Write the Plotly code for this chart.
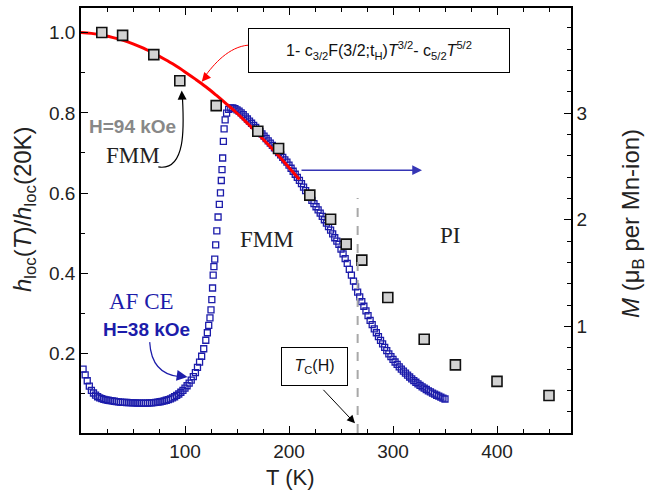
import plotly.graph_objects as go

# ---------------- data ----------------
# grey squares: h_loc(T)/h_loc(20K), H=94 kOe (left axis)
T_h = [20, 40, 70, 95, 130, 170, 190, 220, 240, 255, 270, 295, 330, 360, 400, 450]
h_ratio = [1.000, 0.993, 0.945, 0.880, 0.818, 0.754, 0.711, 0.595, 0.535, 0.473,
           0.433, 0.340, 0.236, 0.172, 0.131, 0.096]

# red spin-wave fit curve (left axis)
T_fit = [0, 10, 20, 30, 40, 50, 60, 70, 80, 90, 100, 110, 120, 130, 140, 150,
         160, 170, 180, 190, 200, 210]
h_fit = [1.000, 0.998, 0.994, 0.988, 0.981, 0.972, 0.961, 0.948, 0.934, 0.919,
         0.902, 0.884, 0.865, 0.844, 0.822, 0.799, 0.774, 0.748, 0.721, 0.693,
         0.664, 0.634]

# blue open squares: magnetization M (mu_B per Mn-ion), H=38 kOe (right axis)
T_M = [2, 4, 6, 8, 10, 12, 14, 16, 18, 20, 22, 24, 26, 28, 30, 32, 34, 36, 38, 40,
       42, 44, 46, 48, 50, 52, 54, 56, 58, 60, 62, 64, 66, 68, 70, 72, 74, 76, 78, 80,
       82, 84, 86, 88, 90, 92, 94, 96, 98, 100, 102, 104, 106, 108, 110, 112, 114, 116,
       118, 120, 121.5, 122.8, 124, 125, 125.8, 126.5, 127.1, 127.8, 128.6, 129.5,
       130.6, 131.8, 133, 134.1, 134.9, 135.6, 136.2, 136.9, 137.6, 138.6, 140, 142,
       144, 146, 148,
       150, 152, 154, 156, 158, 160, 162, 164, 166, 168, 170, 172, 174, 176, 178, 180,
       182, 184, 186, 188, 190, 192, 194, 196, 198, 200, 202, 204, 206, 208, 210, 212,
       214, 216, 218, 220, 222, 224, 226, 228, 230, 232, 234, 236, 238, 240, 242, 244,
       246, 248, 250, 252, 254, 256, 258, 260, 262, 264, 266, 268, 270, 272, 274, 276,
       278, 280, 282, 284, 286, 288, 290, 292, 294, 296, 298, 300, 302, 304, 306, 308,
       310, 312, 314, 316, 318, 320, 322, 324, 326, 328, 330, 332, 334, 336, 338, 340,
       342, 344, 346, 348, 350]
M = [0.600, 0.545, 0.490, 0.440, 0.400, 0.375, 0.355, 0.340, 0.330, 0.322, 0.316,
     0.311, 0.307, 0.304, 0.301, 0.298, 0.295, 0.292, 0.290, 0.288, 0.287, 0.286,
     0.285, 0.284, 0.283, 0.282, 0.281, 0.280, 0.280, 0.280, 0.280, 0.281, 0.282,
     0.283, 0.285, 0.287, 0.290, 0.293, 0.297, 0.302, 0.307, 0.313, 0.320, 0.329,
     0.340, 0.352, 0.366, 0.382, 0.400, 0.420, 0.443, 0.468, 0.496, 0.528, 0.567,
     0.615, 0.665, 0.720, 0.790, 0.870, 0.940, 1.010, 1.080, 1.155, 1.250, 1.360,
     1.480, 1.560, 1.630, 1.765, 1.896, 2.026, 2.144, 2.253, 2.368, 2.470, 2.579,
     2.735, 2.853, 2.937, 3.000, 3.035, 3.048, 3.050, 3.042,
     3.030, 3.018, 3.003, 2.985, 2.965, 2.945, 2.925, 2.905, 2.885, 2.865, 2.845,
     2.826, 2.805, 2.784, 2.762, 2.740, 2.718, 2.697, 2.675, 2.653, 2.630, 2.608,
     2.585, 2.562, 2.540, 2.512, 2.483, 2.455, 2.427, 2.398, 2.370, 2.338, 2.306,
     2.274, 2.242, 2.210, 2.181, 2.152, 2.122, 2.092, 2.062, 2.031, 2.000, 1.968,
     1.936, 1.902, 1.867, 1.831, 1.800, 1.770, 1.725, 1.680, 1.635, 1.590, 1.535,
     1.480, 1.425, 1.370, 1.322, 1.277, 1.233, 1.189, 1.145, 1.100, 1.056, 1.016,
     0.977, 0.940, 0.904, 0.869, 0.835, 0.803, 0.772, 0.743, 0.716, 0.690, 0.666,
     0.643, 0.621, 0.600, 0.580, 0.561, 0.543, 0.525, 0.508, 0.492, 0.476, 0.461,
     0.447, 0.433, 0.420, 0.408, 0.396, 0.385, 0.374, 0.364, 0.354, 0.345, 0.336,
     0.327, 0.319, 0.311]

x_ticks = [100, 200, 300, 400]
h_ticks = [0.2, 0.4, 0.6, 0.8, 1.0]
h_ticktext = ["0.2", "0.4", "0.6", "0.8", "1.0"]
M_ticks = [1, 2, 3]

# ---------------- layout helpers (pixel -> paper) ----------------
W, H = 668, 495
ML, MR, MT, MB = 81, 97, 6, 62
PW, PH = W - ML - MR, H - MT - MB


def X(px):
    return (px - ML) / PW


def Y(py):
    return (H - MB - py) / PH


SANS = "Liberation Sans, Arial, sans-serif"
SERIF = "Liberation Serif, Times New Roman, serif"
BLUE = "#1c1caa"

fig = go.Figure()

fig.add_trace(go.Scatter(
    x=T_M, y=M, mode="markers", yaxis="y", showlegend=False,
    marker=dict(symbol="square-open", size=6, color=BLUE, line=dict(width=1.3, color=BLUE))))

fig.add_trace(go.Scatter(
    x=T_fit, y=h_fit, mode="lines", yaxis="y2", showlegend=False,
    line=dict(color="#ff0000", width=3, shape="spline")))

fig.add_trace(go.Scatter(
    x=T_h, y=h_ratio, mode="markers", yaxis="y2", showlegend=False,
    marker=dict(symbol="square", size=10, color="#d2d2d2", line=dict(width=1.6, color="#111111"))))

axis_common = dict(showline=True, linecolor="black", linewidth=1.5, ticks="inside",
                   tickcolor="black", tickwidth=1.2, ticklen=7, showgrid=False, zeroline=False,
                   tickfont=dict(family=SANS, size=19, color="#222222"))

x_minor = [v for v in range(25, 475, 25) if v % 100 != 0]
h_minor = [0.1, 0.3, 0.5, 0.7, 0.9]
M_minor = [round(0.2 * i, 1) for i in range(1, 20) if i % 5 != 0]

fig.update_layout(
    width=W, height=H, margin=dict(l=ML, r=MR, t=MT, b=MB),
    paper_bgcolor="white", plot_bgcolor="white",
    xaxis=dict(range=[0, PW / 1.04], tickvals=x_ticks, mirror="ticks",
               minor=dict(tickvals=x_minor, ticks="inside", ticklen=4, tickcolor="black", tickwidth=1.2),
               **axis_common),
    yaxis=dict(range=[0, 3.986], side="right", tickvals=M_ticks,
               minor=dict(tickvals=M_minor, ticks="inside", ticklen=4, tickcolor="black", tickwidth=1.2),
               **axis_common),
    yaxis2=dict(range=[0.0024, 1.0612], side="left", overlaying="y", tickvals=h_ticks,
                ticktext=h_ticktext,
                minor=dict(tickvals=h_minor, ticks="inside", ticklen=4, tickcolor="black", tickwidth=1.2),
                **axis_common),
)

shapes = []
# dashed T_C line
shapes.append(dict(type="line", xref="x", yref="paper", x0=266, x1=266, y0=0, y1=Y(197),
                   line=dict(color="#a8a8a8", width=2, dash="dash")))


def curve(p0, c1, c2, p1, color, width):
    path = "M %.4f,%.4f C %.4f,%.4f %.4f,%.4f %.4f,%.4f" % (
        X(p0[0]), Y(p0[1]), X(c1[0]), Y(c1[1]), X(c2[0]), Y(c2[1]), X(p1[0]), Y(p1[1]))
    return dict(type="path", xref="paper", yref="paper", path=path,
                line=dict(color=color, width=width))


shapes.append(curve((248.3, 43.3), (229, 45), (214, 62), (204, 76), "#ff0000", 1))
shapes.append(curve((158.3, 165.7), (186, 170), (184, 125), (182.5, 97), "black", 1.2))
shapes.append(curve((149.7, 341.7), (151, 366), (163, 375), (180, 376.5), BLUE, 1.2))
fig.update_layout(shapes=shapes)

ann = []


def arrow(tip, ax, ay, color, width=1.2, size=1.5, head=2):
    ann.append(dict(xref="paper", yref="paper", x=X(tip[0]), y=Y(tip[1]), ax=ax, ay=ay,
                    axref="pixel", ayref="pixel", text="", showarrow=True, arrowhead=head,
                    arrowsize=size, arrowwidth=width, arrowcolor=color))


arrow((201.7, 80), 7, -8, "#ff0000", 1, 1.8)
arrow((181.7, 89), 0.5, 10, "black", 1.2, 1.5)
arrow((187.5, 376.8), -10, -1.5, BLUE, 1.2, 1.8)
arrow((422, 169), -122, 0, "#3535b5", 1.3, 1.5)
arrow((355, 423.3), -33, -35, "black", 1, 1.6)


def text(px, py, s, family, size, color, **kw):
    ann.append(dict(xref="paper", yref="paper", x=X(px), y=Y(py), text=s, showarrow=False,
                    font=dict(family=family, size=size, color=color), xanchor="center",
                    yanchor="middle", **kw))


text(378.8, 48.3,
     "1- c<sub>3/2</sub>F(3/2;t<sub>H</sub>)<i>T</i><sup>3/2</sup>- c<sub>5/2</sub><i>T</i><sup>5/2</sup>",
     SANS, 16, "#111111", bordercolor="black", borderwidth=1, borderpad=1, bgcolor="white",
     width=258, height=41)
text(314, 366, "<i>T</i><sub>C</sub>(H)", SANS, 16, "#111111", bordercolor="black",
     borderwidth=1, borderpad=1, bgcolor="white", width=63, height=35)
text(132, 125, "<b>H=94 kOe</b>", SANS, 19, "#888888")
text(133, 154, "FMM", SERIF, 23, "#222222")
text(267, 239, "FMM", SERIF, 23, "#222222")
text(450, 235, "PI", SERIF, 23, "#222222")
text(141.7, 300.7, "AF CE", SERIF, 23, BLUE)
text(146, 329, "<b>H=38 kOe</b>", SANS, 19, BLUE)
text(290, 478, "T (K)", SANS, 22, "#222222")
text(24, 208, "<i>h</i><sub>loc</sub>(<i>T</i>)/<i>h</i><sub>loc</sub>(20K)", SANS, 24,
     "#222222", textangle=-90)
text(633, 223, "<i>M</i> (μ<sub>B</sub> per Mn-ion)", SANS, 24, "#222222", textangle=-90)

fig.update_layout(annotations=ann)

fig.write_html("out.html", config={"displayModeBar": False},
               post_script="document.body.style.margin='0';document.body.style.padding='0';")
